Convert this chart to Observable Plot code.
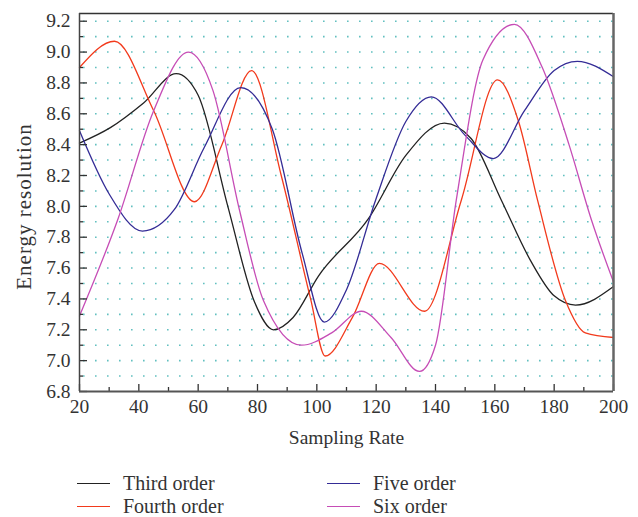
<!DOCTYPE html>
<html>
<head>
<meta charset="utf-8">
<script src="https://cdn.jsdelivr.net/npm/d3@7"></script>
<script src="https://cdn.jsdelivr.net/npm/@observablehq/plot@0.6"></script>
<style>
  html, body { margin: 0; padding: 0; background: #fff; }
  #wrap { width: 638px; font-family: "Liberation Serif", "DejaVu Serif", serif; color: #333; }
  #legend { position: relative; height: 62px; font-size: 20px; }
  .item { position: absolute; display: flex; align-items: center; height: 20px; line-height: 20px; }
  .swatch { width: 33px; height: 0; border-top: 1.5px solid; margin-right: 13px; }
</style>
</head>
<body>
<div id="wrap">
  <div id="chart"></div>
  <div id="legend"></div>
</div>
<script>
// Series names and colors
const seriesNames = ["Third order", "Fourth order", "Five order", "Six order"];
const seriesColors = ["#222222", "#f23a1c", "#342c96", "#c64db6"];

// Third order (black)
const thirdX = [20, 30.4, 41.6, 52.6, 60, 70, 79, 85.4, 92, 100.6, 117.4, 130, 143, 152, 162.2, 172, 180, 187.2, 200];
const thirdY = [8.41, 8.51, 8.67, 8.86, 8.72, 8.0, 7.38, 7.20, 7.28, 7.55, 7.92, 8.33, 8.54, 8.44, 8.04, 7.65, 7.42, 7.36, 7.48];

// Fourth order (orange-red)
const fourthX = [20, 31.8, 45, 58.8, 68, 78, 88, 97.9, 102.8, 112, 121.1, 136.3, 148.7, 160.9, 168, 174.4, 183.8, 190.5, 200];
const fourthY = [8.90, 9.07, 8.62, 8.03, 8.40, 8.88, 8.20, 7.40, 7.03, 7.28, 7.63, 7.32, 8.04, 8.82, 8.55, 8.04, 7.39, 7.18, 7.15];

// Five order (navy)
const fiveX = [20, 30, 41.2, 52, 62, 74.3, 85, 95, 102.5, 110, 119.8, 130, 138.6, 150, 159.5, 170, 180, 187.8, 200];
const fiveY = [8.49, 8.08, 7.84, 7.98, 8.38, 8.77, 8.50, 7.70, 7.25, 7.46, 8.04, 8.55, 8.71, 8.46, 8.31, 8.62, 8.88, 8.94, 8.84];

// Six order (magenta)
const sixX = [20, 33, 45, 56.7, 65, 74, 82, 94.8, 105, 115, 125, 134.6, 140, 147, 156, 166.6, 176, 185, 192.6, 200];
const sixY = [7.29, 7.92, 8.62, 9.00, 8.75, 7.97, 7.39, 7.10, 7.18, 7.32, 7.15, 6.93, 7.10, 8.04, 8.95, 9.18, 8.90, 8.40, 7.91, 7.51];

// Axis ticks
const xMajor = [20, 40, 60, 80, 100, 120, 140, 160, 180, 200];
const xMinor = [30, 50, 70, 90, 110, 130, 150, 170, 190];
const yMajor = [6.8, 7.0, 7.2, 7.4, 7.6, 7.8, 8.0, 8.2, 8.4, 8.6, 8.8, 9.0, 9.2];
const yMinor = [6.9, 7.1, 7.3, 7.5, 7.7, 7.9, 8.1, 8.3, 8.5, 8.7, 8.9, 9.1];
const yGrid = [6.9, 7.0, 7.1, 7.2, 7.3, 7.4, 7.5, 7.6, 7.7, 7.8, 7.9, 8.0, 8.1, 8.2, 8.3, 8.4, 8.5, 8.6, 8.7, 8.8, 8.9, 9.0, 9.1, 9.2];

const allX = [thirdX, fourthX, fiveX, sixX];
const allY = [thirdY, fourthY, fiveY, sixY];
const data = [];
seriesNames.forEach((name, i) => {
  allX[i].forEach((x, j) => data.push({series: name, x, y: allY[i][j]}));
});

const font = "Liberation Serif, DejaVu Serif, serif";

const chart = Plot.plot({
  width: 638,
  height: 455,
  marginLeft: 79,
  marginRight: 25,
  marginTop: 13,
  marginBottom: 64,
  style: {fontFamily: font, fontSize: "19px", color: "#333", background: "#fff"},
  x: {domain: [20, 200]},
  y: {domain: [6.8, 9.25]},
  color: {domain: seriesNames, range: seriesColors},
  marks: [
    Plot.ruleY(yGrid, {stroke: "#62c0c0", strokeWidth: 1.6, strokeDasharray: "1.6,10.4", strokeDashoffset: -4}),
    Plot.line(data, {x: "x", y: "y", z: "series", stroke: "series", strokeWidth: 1.3, curve: "monotone-x"}),
    // tick marks (inward)
    Plot.axisY(yMajor, {tickSize: -8, tickFormat: () => "", label: null, stroke: "#333", strokeWidth: 1.3}),
    Plot.axisY(yMinor, {tickSize: -4, tickFormat: () => "", label: null, stroke: "#333", strokeWidth: 1.3}),
    Plot.axisX(xMajor, {tickSize: -7, tickFormat: () => "", label: null, stroke: "#333", strokeWidth: 1.3}),
    Plot.axisX(xMinor, {tickSize: -4, tickFormat: () => "", label: null, stroke: "#333", strokeWidth: 1.3}),
    // labels
    Plot.axisY(yMajor, {tickSize: 0, tickPadding: 9, tickFormat: d3.format(".1f"), label: null, fontSize: 19.5}),
    Plot.axisX(xMajor, {tickSize: 0, tickPadding: 8, label: null, fontSize: 19.5}),
    Plot.text(["Sampling Rate"], {frameAnchor: "bottom", dy: 52, text: d => d, fontSize: 19.5, fill: "#333"}),
    Plot.text(["Energy resolution"], {frameAnchor: "left", textAnchor: "middle", dx: -55, dy: 4, rotate: -90, text: d => d, fontSize: 21, fill: "#333"}),
    // frame
    Plot.ruleY([9.25], {stroke: "#333", strokeWidth: 1.5}),
    Plot.ruleX([200], {stroke: "#666", strokeWidth: 2.5}),
    Plot.ruleX([20], {stroke: "#444", strokeWidth: 1.5}),
    Plot.ruleY([6.8], {stroke: "#555", strokeWidth: 2})
  ]
});
document.getElementById("chart").appendChild(chart);
// widen the rotated y-axis title to the reference's letter spacing
d3.select(chart).selectAll("text").filter(function() { return this.textContent === "Energy resolution"; })
  .attr("letter-spacing", "1px");

// Legend below
const legend = document.getElementById("legend");
const positions = [[77, 28], [77, 51], [327, 28], [327, 51]];
seriesNames.forEach((name, i) => {
  const item = document.createElement("div");
  item.className = "item";
  item.style.left = positions[i][0] + "px";
  item.style.top = (positions[i][1] - 10) + "px";
  const sw = document.createElement("span");
  sw.className = "swatch";
  sw.style.borderTopColor = seriesColors[i];
  const t = document.createElement("span");
  t.textContent = name;
  item.appendChild(sw);
  item.appendChild(t);
  legend.appendChild(item);
});
</script>
</body>
</html>
